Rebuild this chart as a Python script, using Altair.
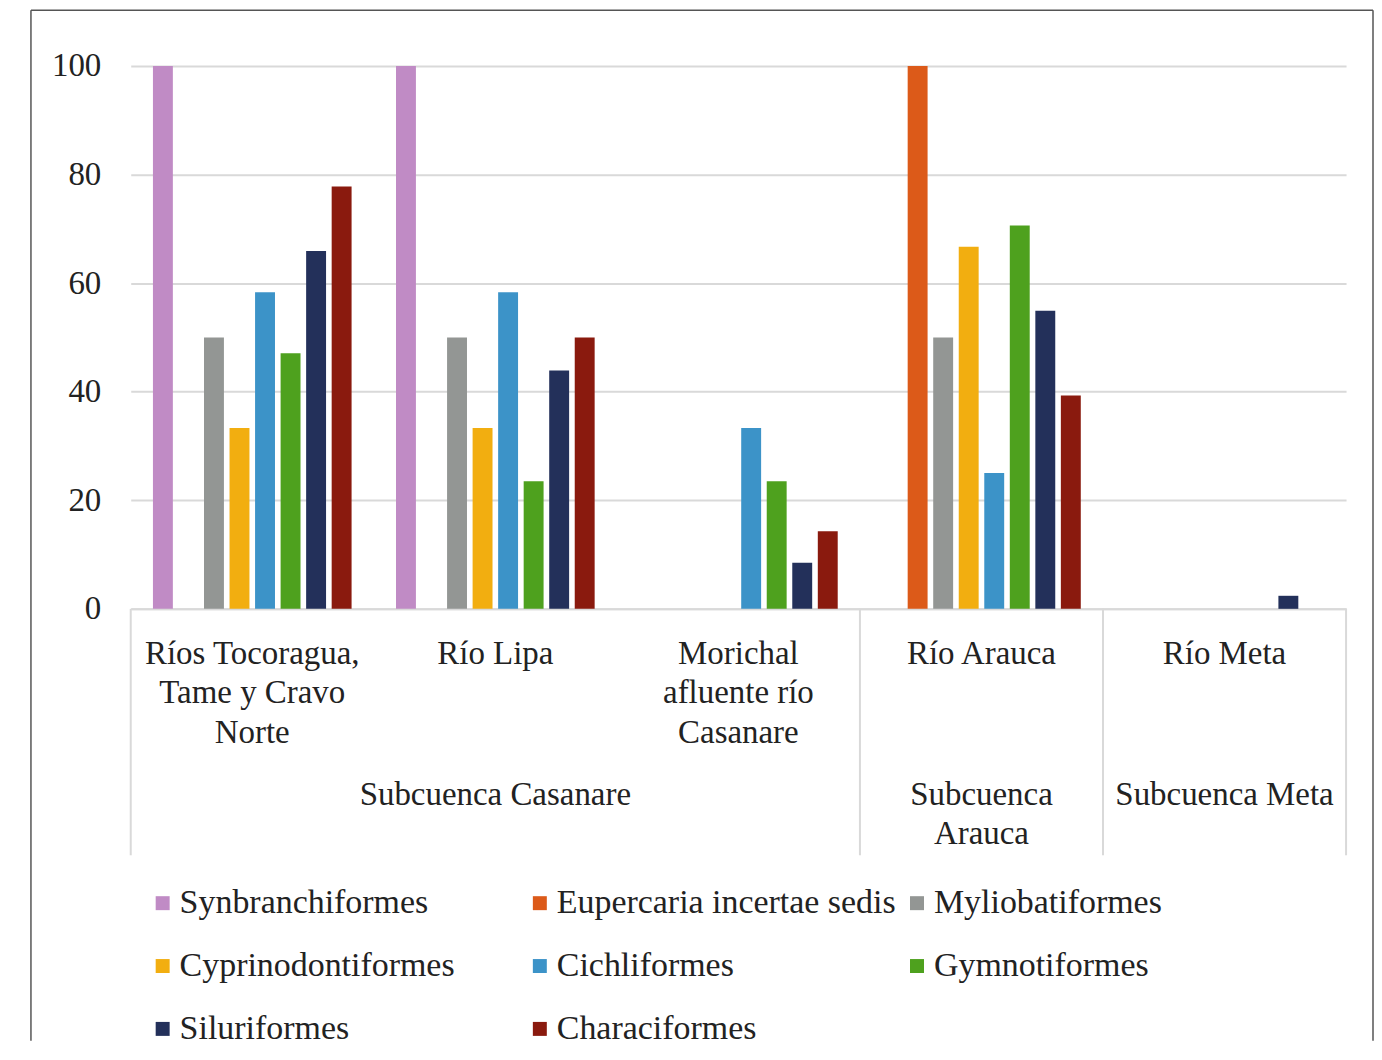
import altair as alt
import pandas as pd

# ---------------- data ----------------
categories = [
    "Ríos Tocoragua, Tame y Cravo Norte",
    "Río Lipa",
    "Morichal afluente río Casanare",
    "Río Arauca",
    "Río Meta",
]
category_labels = [
    "Ríos Tocoragua,\nTame y Cravo\nNorte",
    "Río Lipa",
    "Morichal\nafluente río\nCasanare",
    "Río Arauca",
    "Río Meta",
]
subcuenca_of = [
    "Subcuenca Casanare",
    "Subcuenca Casanare",
    "Subcuenca Casanare",
    "Subcuenca Arauca",
    "Subcuenca Meta",
]
subcuencas = ["Subcuenca Casanare", "Subcuenca Arauca", "Subcuenca Meta"]
subcuenca_labels = ["Subcuenca Casanare", "Subcuenca\nArauca", "Subcuenca Meta"]

series = [
    "Synbranchiformes",
    "Eupercaria incertae sedis",
    "Myliobatiformes",
    "Cyprinodontiformes",
    "Cichliformes",
    "Gymnotiformes",
    "Siluriformes",
    "Characiformes",
]
colors = ["#C08BC5", "#DC5A19", "#939694", "#F2AE10",
          "#3C93C8", "#4EA11E", "#23305A", "#8A1A0E"]

synbranchiformes = [100, 100, 0, 0, 0]
eupercaria = [0, 0, 0, 100, 0]
myliobatiformes = [50, 50, 0, 50, 0]
cyprinodontiformes = [33.3, 33.3, 0, 66.7, 0]
cichliformes = [58.3, 58.3, 33.3, 25.0, 0]
gymnotiformes = [47.1, 23.5, 23.5, 70.6, 0]
siluriformes = [65.9, 43.9, 8.5, 54.9, 2.4]
characiformes = [77.8, 50.0, 14.3, 39.3, 0]

series_values = [synbranchiformes, eupercaria, myliobatiformes, cyprinodontiformes,
                 cichliformes, gymnotiformes, siluriformes, characiformes]

# ---------------- tables ----------------
rows = []
for s, vals in zip(series, series_values):
    for c, v in zip(categories, vals):
        rows.append({"category": c, "series": s, "value": v})
bars_df = pd.DataFrame(rows)

cat_df = pd.DataFrame({"category": categories, "label": category_labels})

sub_rows = []
for sc, lab in zip(subcuencas, subcuenca_labels):
    idx = [i for i, s in enumerate(subcuenca_of) if s == sc]
    mid = idx[len(idx) // 2]
    sub_rows.append({"category": categories[mid], "label": lab})
sub_df = pd.DataFrame(sub_rows)

# left edges of each subcuenca group, and right edge of last
starts = []
for i, s in enumerate(subcuenca_of):
    if i == 0 or subcuenca_of[i - 1] != s:
        starts.append(categories[i])
start_df = pd.DataFrame({"category": starts})
end_df = pd.DataFrame({"category": [categories[-1]]})

FONT = "Liberation Serif"
TXT = "#222222"
GRID = "#d9d9d9"
W, H = 1218, 544
AXIS_DEPTH = 247

x_scale = alt.Scale(domain=categories, paddingInner=0, paddingOuter=0)

bars = alt.Chart(bars_df).mark_bar().encode(
    x=alt.X("category:N", sort=categories, scale=x_scale,
            axis=alt.Axis(labels=False, ticks=False, title=None,
                          domainColor=GRID, domainWidth=2, grid=False)),
    xOffset=alt.XOffset("series:N", sort=series,
                        scale=alt.Scale(domain=series, paddingInner=0.22, paddingOuter=0.87)),
    y=alt.Y("value:Q", scale=alt.Scale(domain=[0, 100], nice=False),
            axis=alt.Axis(values=[0, 20, 40, 60, 80, 100], title=None, domain=False,
                          ticks=False, gridColor=GRID, gridWidth=2,
                          labelFont=FONT, labelFontSize=33, labelColor=TXT,
                          labelPadding=30)),
    color=alt.Color("series:N", sort=series,
                    scale=alt.Scale(domain=series, range=colors),
                    legend=alt.Legend(orient="none", legendX=15, legendY=822,
                                      direction="horizontal", columns=3,
                                      columnPadding=4, rowPadding=29,
                                      gridAlign="all", symbolType="square",
                                      symbolSize=196, symbolStrokeWidth=0,
                                      labelFont=FONT, labelFontSize=34,
                                      labelColor=TXT, labelLimit=800,
                                      labelOffset=0, title=None)),
)

cat_text = alt.Chart(cat_df).mark_text(
    font=FONT, fontSize=33, color=TXT, lineBreak="\n", lineHeight=39.5,
    baseline="alphabetic", align="center",
).encode(
    x=alt.X("category:N", sort=categories, scale=x_scale),
    y=alt.value(H + 55),
    text="label:N",
)

sub_text = alt.Chart(sub_df).mark_text(
    font=FONT, fontSize=33, color=TXT, lineBreak="\n", lineHeight=39,
    baseline="alphabetic", align="center",
).encode(
    x=alt.X("category:N", sort=categories, scale=x_scale),
    y=alt.value(H + 197),
    text="label:N",
)

sep_start = alt.Chart(start_df).mark_rule(color=GRID, strokeWidth=2).encode(
    x=alt.X("category:N", sort=categories, scale=x_scale, bandPosition=0),
    y=alt.value(H),
    y2=alt.value(H + AXIS_DEPTH),
)
sep_end = alt.Chart(end_df).mark_rule(color=GRID, strokeWidth=2).encode(
    x=alt.X("category:N", sort=categories, scale=x_scale, bandPosition=1),
    y=alt.value(H),
    y2=alt.value(H + AXIS_DEPTH),
)

one = pd.DataFrame({"k": [0]})
FR = "#555555"
frame_left = alt.Chart(one).mark_rule(color=FR, strokeWidth=1.5).encode(
    x=alt.value(-100), y=alt.value(-56), y2=alt.value(977))
frame_top = alt.Chart(one).mark_rule(color=FR, strokeWidth=1.5).encode(
    x=alt.value(-100), x2=alt.value(1245), y=alt.value(-56))
frame_right = alt.Chart(one).mark_rule(color=FR, strokeWidth=1.5).encode(
    x=alt.value(1245), y=alt.value(-56), y2=alt.value(977))

chart = alt.layer(
    bars, sep_start, sep_end, cat_text, sub_text,
    frame_left, frame_top, frame_right,
).properties(
    width=W, height=H,
    padding={"left": 22, "top": 0, "right": 0, "bottom": 0},
    background="white",
).configure_view(stroke=None)

chart.save("out.html", embed_options={"renderer": "svg", "actions": False})
